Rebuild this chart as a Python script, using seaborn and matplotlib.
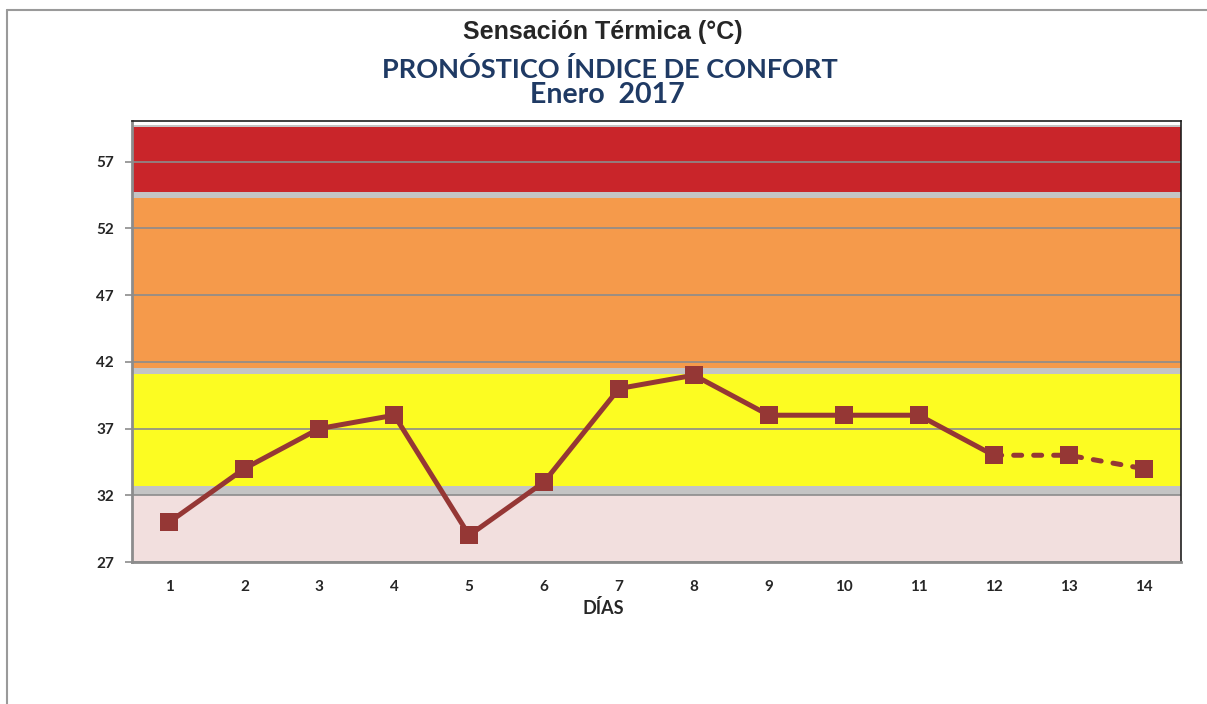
import matplotlib
matplotlib.use("Agg")
import matplotlib.pyplot as plt
import matplotlib.lines as mlines
import pandas as pd
import seaborn as sns

DAYS = list(range(1, 15))
VALUES = [30, 34, 37, 38, 29, 33, 40, 41, 38, 38, 38, 35, 35, 34]
FORECAST_START = 12  # from day 12 on the line is dashed

Y_TICKS = [27, 32, 37, 42, 47, 52, 57]

# comfort bands (lower, upper, colour)
BAND_LOW = [27.0, 32.7, 41.55, 54.75]
BAND_HIGH = [32.0, 41.1, 54.3, 59.6]
BAND_COLORS = ["#F2DFDE", "#FCFC22", "#F59A4B", "#C9252A"]
GAP_COLOR = "#C4C4C4"

LINE_COLOR = "#953735"
TITLE_BLUE = "#1F3A64"

sns.set_style("white")
plt.rcParams["font.family"] = ["Lato", "DejaVu Sans"]

df = pd.DataFrame({"dia": DAYS, "valor": VALUES})
obs = df[df["dia"] <= FORECAST_START]
fcst = df[df["dia"] >= FORECAST_START]

fig = plt.figure(figsize=(12.07, 7.04), dpi=100)
ax = fig.add_axes([132 / 1207, 1 - 562 / 704, 1049 / 1207, 441 / 704])

ax.set_xlim(0.5, 14.5)
ax.set_ylim(27, 60.05)

# gray fill behind the bands shows through in the gaps
ax.axhspan(27, 59.75, color=GAP_COLOR, zorder=0, lw=0)
for lo, hi, c in zip(BAND_LOW, BAND_HIGH, BAND_COLORS):
    ax.axhspan(lo, hi, color=c, zorder=0.5, lw=0)

for y in Y_TICKS:
    ax.axhline(y, color="#8C8C8C", lw=1.2, zorder=1)

sns.lineplot(data=obs, x="dia", y="valor", ax=ax, color=LINE_COLOR, lw=3.6,
             marker="s", markersize=13, markeredgewidth=0, zorder=3)
sns.lineplot(data=fcst, x="dia", y="valor", ax=ax, color=LINE_COLOR, lw=3.6,
             marker="s", markersize=13, markeredgewidth=0, zorder=3,
             dashes=False, linestyle=(0, (1.6, 2.4)))
for ln in ax.get_lines()[-1:]:
    ln.set_dash_capstyle("round")

ax.set_xticks(DAYS)
ax.set_xticklabels([str(d) for d in DAYS], fontweight="bold", fontsize=11)
ax.set_yticks(Y_TICKS)
ax.set_yticklabels([str(y) for y in Y_TICKS], fontweight="bold", fontsize=11)
ax.tick_params(axis="x", length=0, pad=13)
ax.tick_params(axis="y", length=5, width=1.2, color="#8C8C8C", pad=8, left=True)

ax.set_xlabel("DÍAS", fontweight="bold", fontsize=13)
ax.set_ylabel("")
ax.xaxis.set_label_coords((603 - 132) / 1049, -0.084)

for side in ["left", "bottom"]:
    ax.spines[side].set_color("#8C8C8C")
    ax.spines[side].set_linewidth(2)
for side in ["top", "right"]:
    ax.spines[side].set_color("#202020")
    ax.spines[side].set_linewidth(1.2)

cx = 607 / 1207
fig.text(603 / 1207, 1 - 32 / 704, "Sensación Térmica (°C)", ha="center", va="center",
         fontsize=18, fontweight="bold", family=["Liberation Sans", "DejaVu Sans"])
fig.text(610 / 1207, 1 - 70 / 704, "PRONÓSTICO ÍNDICE DE CONFORT", ha="center",
         va="center", fontsize=19.5, fontweight="bold", color=TITLE_BLUE)
fig.text(cx, 1 - 95 / 704, "Enero  2017", ha="center", va="center",
         fontsize=20.5, fontweight="bold", color=TITLE_BLUE)

# chart frame (top and left edges)
fig.add_artist(mlines.Line2D([7 / 1207, 1], [1 - 10 / 704, 1 - 10 / 704],
                             transform=fig.transFigure, color="#9A9A9A", lw=1.5))
fig.add_artist(mlines.Line2D([7 / 1207, 7 / 1207], [0, 1 - 10 / 704],
                             transform=fig.transFigure, color="#9A9A9A", lw=1.5))

fig.savefig("out.png", dpi=100)
